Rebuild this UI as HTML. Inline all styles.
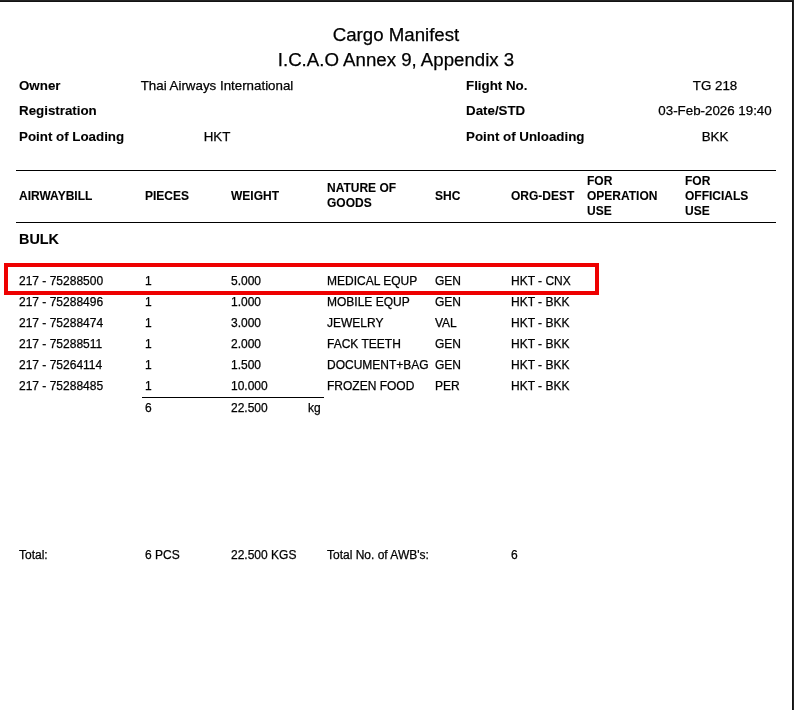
<!DOCTYPE html>
<html><head><meta charset="utf-8"><title>Cargo Manifest</title>
<style>
html,body{margin:0;padding:0;background:#fff;}
body{width:794px;height:710px;position:relative;overflow:hidden;font-family:"Liberation Sans",sans-serif;color:#000;}
.frame{position:absolute;left:0;top:0;width:793px;height:709px;border-top:1px solid #232323;border-right:1px solid #232323;box-sizing:content-box;}
.frame2{position:absolute;left:0;top:1px;width:792px;height:708px;border-top:1px solid #121212;border-right:1px solid #121212;box-sizing:content-box;}
.t{position:absolute;white-space:nowrap;line-height:16px;-webkit-text-stroke:0.25px #000;}
.b{-webkit-text-stroke:0.1px #000;}
.title{font-size:18.67px;line-height:24px;text-align:center;left:0;width:792px;}
.h{font-size:13.33px;}
.b{font-weight:bold;}
.c{text-align:center;}
.s{font-size:12px;line-height:15px;}
.hr{position:absolute;height:1px;background:#000;}
.red{position:absolute;left:4px;top:263px;width:587px;height:24px;border:4px solid #ee0000;}
</style></head><body>
<div class="frame"></div><div class="frame2"></div>
<div class="t title" style="top:23px">Cargo Manifest</div>
<div class="t title" style="top:48px">I.C.A.O Annex 9, Appendix 3</div>

<div class="t h b" style="left:19px;top:78px">Owner</div>
<div class="t h b" style="left:19px;top:103px">Registration</div>
<div class="t h b" style="left:19px;top:129px">Point of Loading</div>
<div class="t h c" style="left:117px;width:200px;top:78px">Thai Airways International</div>
<div class="t h c" style="left:117px;width:200px;top:129px">HKT</div>
<div class="t h b" style="left:466px;top:78px">Flight No.</div>
<div class="t h b" style="left:466px;top:103px">Date/STD</div>
<div class="t h b" style="left:466px;top:129px">Point of Unloading</div>
<div class="t h c" style="left:615px;width:200px;top:78px">TG 218</div>
<div class="t h c" style="left:615px;width:200px;top:103px">03-Feb-2026 19:40</div>
<div class="t h c" style="left:615px;width:200px;top:129px">BKK</div>

<div class="hr" style="left:16px;top:170px;width:760px"></div>
<div class="hr" style="left:16px;top:222px;width:760px"></div>

<div class="t s b" style="left:19px;top:189px">AIRWAYBILL</div>
<div class="t s b" style="left:145px;top:189px">PIECES</div>
<div class="t s b" style="left:231px;top:189px">WEIGHT</div>
<div class="t s b" style="left:327px;top:181px">NATURE OF<br>GOODS</div>
<div class="t s b" style="left:435px;top:189px">SHC</div>
<div class="t s b" style="left:511px;top:189px">ORG-DEST</div>
<div class="t s b" style="left:587px;top:174px">FOR<br>OPERATION<br>USE</div>
<div class="t s b" style="left:685px;top:174px">FOR<br>OFFICIALS<br>USE</div>

<div class="t b" style="font-size:14.4px;left:19px;top:231px">BULK</div>

<div class="red"></div>

<div class="t s" style="left:19px;top:274px">217 - 75288500</div>
<div class="t s" style="left:145px;top:274px">1</div>
<div class="t s" style="left:231px;top:274px">5.000</div>
<div class="t s" style="left:327px;top:274px">MEDICAL EQUP</div>
<div class="t s" style="left:435px;top:274px">GEN</div>
<div class="t s" style="left:511px;top:274px">HKT - CNX</div>

<div class="t s" style="left:19px;top:295px">217 - 75288496</div>
<div class="t s" style="left:145px;top:295px">1</div>
<div class="t s" style="left:231px;top:295px">1.000</div>
<div class="t s" style="left:327px;top:295px">MOBILE EQUP</div>
<div class="t s" style="left:435px;top:295px">GEN</div>
<div class="t s" style="left:511px;top:295px">HKT - BKK</div>

<div class="t s" style="left:19px;top:316px">217 - 75288474</div>
<div class="t s" style="left:145px;top:316px">1</div>
<div class="t s" style="left:231px;top:316px">3.000</div>
<div class="t s" style="left:327px;top:316px">JEWELRY</div>
<div class="t s" style="left:435px;top:316px">VAL</div>
<div class="t s" style="left:511px;top:316px">HKT - BKK</div>

<div class="t s" style="left:19px;top:337px">217 - 75288511</div>
<div class="t s" style="left:145px;top:337px">1</div>
<div class="t s" style="left:231px;top:337px">2.000</div>
<div class="t s" style="left:327px;top:337px">FACK TEETH</div>
<div class="t s" style="left:435px;top:337px">GEN</div>
<div class="t s" style="left:511px;top:337px">HKT - BKK</div>

<div class="t s" style="left:19px;top:358px">217 - 75264114</div>
<div class="t s" style="left:145px;top:358px">1</div>
<div class="t s" style="left:231px;top:358px">1.500</div>
<div class="t s" style="left:327px;top:358px">DOCUMENT+BAG</div>
<div class="t s" style="left:435px;top:358px">GEN</div>
<div class="t s" style="left:511px;top:358px">HKT - BKK</div>

<div class="t s" style="left:19px;top:379px">217 - 75288485</div>
<div class="t s" style="left:145px;top:379px">1</div>
<div class="t s" style="left:231px;top:379px">10.000</div>
<div class="t s" style="left:327px;top:379px">FROZEN FOOD</div>
<div class="t s" style="left:435px;top:379px">PER</div>
<div class="t s" style="left:511px;top:379px">HKT - BKK</div>

<div class="hr" style="left:142px;top:397px;width:182px"></div>
<div class="t s" style="left:145px;top:401px">6</div>
<div class="t s" style="left:231px;top:401px">22.500</div>
<div class="t s" style="left:308px;top:401px">kg</div>

<div class="t s" style="left:19px;top:548px">Total:</div>
<div class="t s" style="left:145px;top:548px">6 PCS</div>
<div class="t s" style="left:231px;top:548px">22.500 KGS</div>
<div class="t s" style="left:327px;top:548px">Total No. of AWB's:</div>
<div class="t s" style="left:511px;top:548px">6</div>
</body></html>
